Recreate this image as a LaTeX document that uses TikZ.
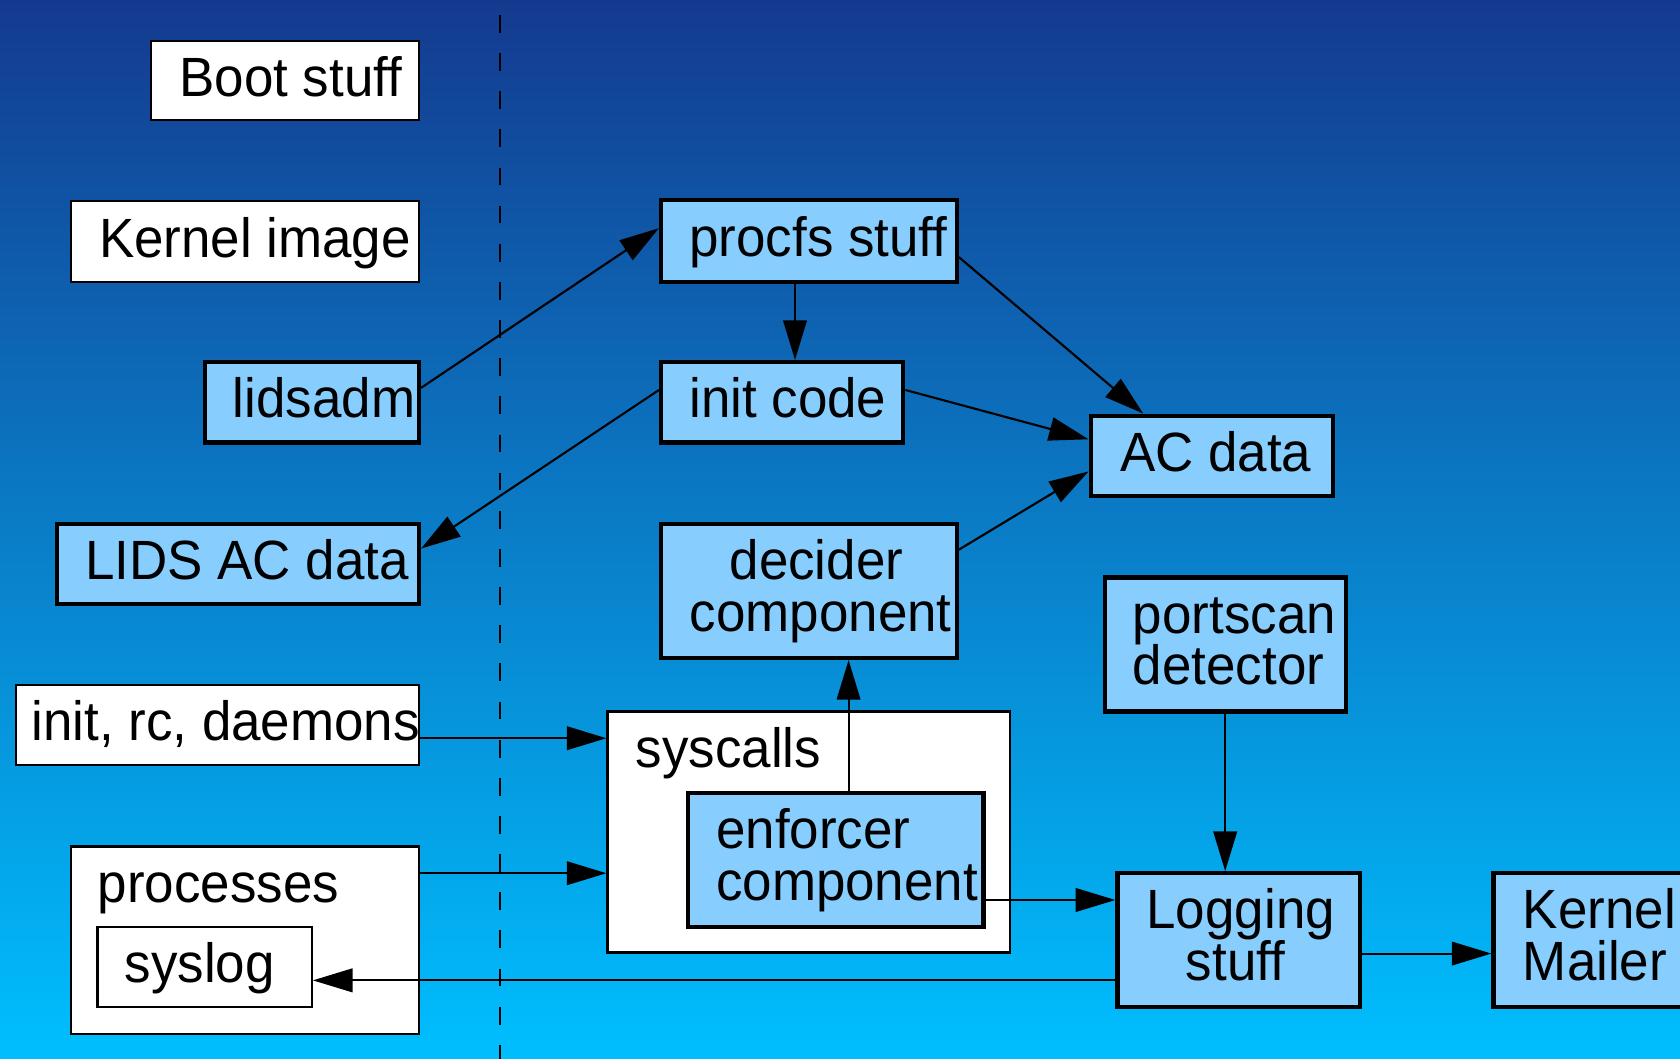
\documentclass[tikz,border=0pt]{standalone}
\usepackage{fontspec}
\setmainfont{Liberation Sans}
\usetikzlibrary{arrows.meta,calc}
\definecolor{bgtop}{RGB}{20,58,143}
\definecolor{bgbot}{RGB}{0,191,255}
\definecolor{lblue}{RGB}{135,206,255}
\newcommand{\fs}{\fontsize{24.7}{30}\selectfont}
\newcommand{\vs}[1]{\scalebox{1}[1.045]{#1}}
\begin{document}
\begin{tikzpicture}[x=0.5pt,y=-0.5pt,
  wbox/.style={draw=black, line width=1pt, fill=white, inner sep=0pt},
  bbox/.style={draw=black, line width=2pt, fill=lblue, inner sep=0pt},
  txt/.style={anchor=base west, inner sep=0pt, font=\fs},
  ctxt/.style={anchor=base, inner sep=0pt, font=\fs},
  arr/.style={line width=1pt, -{Triangle[length=18.5pt,width=11pt]}}]
\clip (0,0) rectangle (1568,988);
\shade[top color=bgtop, bottom color=bgbot] (0,0) rectangle (1568,988);
\draw[line width=1pt, dash pattern=on 8.3pt off 9.5pt] (467,14) -- (467,988);

% left column
\node[wbox, minimum width=125pt, minimum height=37pt] (boot) at (266,75) {};
\node[wbox, minimum width=162.5pt, minimum height=37.5pt] (kimage) at (228.5,225.5) {};
\node[bbox, minimum width=100pt, minimum height=37.5pt] (lidsadm) at (291,375.5) {};
\node[bbox, minimum width=169pt, minimum height=37.5pt] (lidsac) at (222,526.5) {};
\node[wbox, minimum width=188pt, minimum height=37.5pt] (initrc) at (203,676.5) {};
\node[wbox, minimum width=162.5pt, minimum height=87.5pt] (processes) at (228.5,877.5) {};
\node[wbox, minimum width=100pt, minimum height=37.5pt] (syslog) at (191,902.5) {};

% right part
\node[bbox, minimum width=138pt, minimum height=38pt] (procfs) at (755,225) {};
\node[bbox, minimum width=113pt, minimum height=37.5pt] (initcode) at (730,375.5) {};
\node[bbox, minimum width=113pt, minimum height=37.5pt] (acdata) at (1131,425.5) {};
\node[bbox, minimum width=138pt, minimum height=62.5pt] (decider) at (755,551.5) {};
\node[bbox, minimum width=112.5pt, minimum height=62.5pt] (portscan) at (1143.5,601.5) {};
\node[wbox, minimum width=188pt, minimum height=112.5pt] (syscalls) at (755,776.5) {};
\node[bbox, minimum width=138pt, minimum height=62.5pt] (enforcer) at (780,802.5) {};
\node[bbox, minimum width=113pt, minimum height=62.5pt] (logging) at (1156,877.5) {};
\node[bbox, minimum width=113pt, minimum height=62.5pt] (mailer) at (1507,877.5) {};

% texts
\node[txt] (tboot) at (167,90) {\vs{Boot stuff}};
\node[txt] (tkimage) at (92,240) {\vs{Kernel image}};
\node[txt] (tlidsadm) at (217,390) {\vs{lidsadm}};
\node[txt] (tlidsac) at (79,541) {\vs{LIDS AC data}};
\node[txt] (tinitrc) at (29,691) {\vs{init, rc, daemons}};
\node[txt] (tprocesses) at (91,842) {\vs{processes}};
\node[txt] (tsyslog) at (116,917) {\vs{syslog}};
\node[txt] (tprocfs) at (643,239) {\vs{procfs stuff}};
\node[txt] (tinitcode) at (643,390) {\vs{init code}};
\node[txt] (tacdata) at (1045,440) {\vs{AC data}};
\node[ctxt] (tdecider1) at (762,541) {\vs{decider}};
\node[ctxt] (tdecider2) at (766,589) {\vs{component}};
\node[txt] (tportscan1) at (1057,591) {\vs{portscan}};
\node[txt] (tportscan2) at (1057,639) {\vs{detector}};
\node[txt] (tsyscalls) at (593,716) {\vs{syscalls}};
\node[txt] (tenforcer1) at (668,792) {\vs{enforcer}};
\node[txt] (tenforcer2) at (668,840) {\vs{component}};
\node[ctxt] (tlogging1) at (1158,867) {\vs{Logging}};
\node[ctxt] (tlogging2) at (1153,915) {\vs{stuff}};
\node[txt] (tmailer1) at (1421,867) {\vs{Kernel}};
\node[txt] (tmailer2) at (1421,915) {\vs{Mailer}};

% connectors
\draw[arr] ($(lidsadm.east)+(0,-13.5)$) -- ($(procfs.west)+(0,-12)$);
\draw[arr] ($(initcode.west)+(0,-11.5)$) -- ($(lidsac.east)+(0,-14.5)$);
\draw[arr] ($(procfs.south)+(-13,0)$) coordinate (p1) -- (p1 |- initcode.north);
\draw[arr] ($(procfs.east)+(0,15)$) -- ($(acdata.north)+(-64,0)$);
\draw[arr] ($(initcode.east)+(0,-11.5)$) -- ($(acdata.west)+(0,-15.5)$);
\draw[arr] ($(decider.east)+(0,-38.5)$) -- ($(acdata.west)+(0,14.5)$);
\draw[arr] ($(enforcer.north)+(12,0)$) coordinate (p2) -- (p2 |- decider.south);
\draw[arr] ($(initrc.east)+(0,12.5)$) coordinate (p3) -- (p3 -| syscalls.west);
\draw[arr] ($(processes.east)+(0,-62.5)$) coordinate (p4) -- (p4 -| syscalls.west);
\draw[arr] ($(enforcer.east)+(0,37.5)$) coordinate (p5) -- (p5 -| logging.west);
\draw[arr] (portscan.south) -- (logging.north -| portscan.south);
\draw[arr] ($(logging.east)+(0,12.5)$) coordinate (p6) -- (p6 -| mailer.west);
\draw[arr] ($(logging.west)+(0,37.5)$) coordinate (p7) -- (p7 -| syslog.east);
\end{tikzpicture}
\end{document}
